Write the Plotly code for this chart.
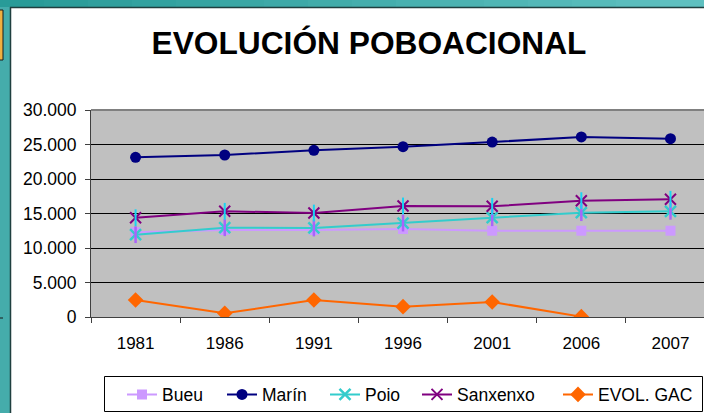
import plotly.graph_objects as go

years = ["1981", "1986", "1991", "1996", "2001", "2006", "2007"]
bueu = [12300, 12610, 12610, 12750, 12510, 12510, 12510]
marin = [23150, 23480, 24160, 24680, 25360, 26090, 25840]
poio = [11930, 12940, 12900, 13620, 14390, 15120, 15320]
sanxenxo = [14390, 15320, 15070, 16090, 16040, 16860, 17060]
evol_gac = [2460, 530, 2460, 1500, 2170, 50, None]

W, H = 704, 413
ML, MR, MT, MB = 91, 0, 110, 96
PW, PH = W - ML - MR, H - MT - MB


def px(x):
    return (x - ML) / PW


def py(y):
    return (H - MB - y) / PH


FONT = "Liberation Sans, Arial, sans-serif"

fig = go.Figure()

fig.add_trace(go.Scatter(x=years, y=bueu, name="Bueu", mode="lines+markers",
                         legend="legend",
                         line=dict(color="#cc99ff", width=2),
                         marker=dict(symbol="square", size=10, color="#cc99ff")))
fig.add_trace(go.Scatter(x=years, y=marin, name="Marín", mode="lines+markers",
                         legend="legend2",
                         line=dict(color="#000080", width=2),
                         marker=dict(symbol="circle", size=11, color="#000080")))
fig.add_trace(go.Scatter(x=years, y=poio, name="Poio", mode="lines+markers",
                         legend="legend3",
                         line=dict(color="#33cccc", width=2),
                         marker=dict(symbol="x-thin-open", size=11,
                                     line=dict(color="#00ffff", width=2.5))))
fig.add_trace(go.Scatter(x=years, y=poio, showlegend=False, mode="markers",
                         hoverinfo="skip",
                         marker=dict(symbol="line-ns-open", size=12,
                                     line=dict(color="#00ffff", width=2.5))))
fig.add_trace(go.Scatter(x=years, y=sanxenxo, name="Sanxenxo", mode="lines+markers",
                         legend="legend4",
                         line=dict(color="#800080", width=2),
                         marker=dict(symbol="x-thin-open", size=11,
                                     line=dict(color="#800080", width=2))))
fig.add_trace(go.Scatter(x=years, y=sanxenxo, showlegend=False, mode="markers",
                         hoverinfo="skip",
                         marker=dict(symbol="line-ns-open", size=12,
                                     line=dict(color="#800080", width=2))))
fig.add_trace(go.Scatter(x=years, y=evol_gac, name="EVOL. GAC", mode="lines+markers",
                         legend="legend5",
                         line=dict(color="#ff6600", width=2),
                         marker=dict(symbol="diamond", size=12, color="#ff6600")))

shapes = []
# top teal gradient band
n = 16
c0 = (0x28, 0x9b, 0x98)
c1 = (0x5e, 0xc0, 0xc0)
for i in range(n):
    t = i / (n - 1)
    col = "rgb(%d,%d,%d)" % tuple(int(a + (b - a) * t) for a, b in zip(c0, c1))
    x0 = W * i / n
    x1 = W * (i + 1) / n + 1
    shapes.append(dict(type="rect", xref="paper", yref="paper",
                       x0=px(x0), x1=px(x1), y0=py(7), y1=py(0),
                       fillcolor=col, line=dict(width=0), layer="above"))
# left teal band
shapes.append(dict(type="rect", xref="paper", yref="paper",
                   x0=px(0), x1=px(10), y0=py(H), y1=py(7),
                   fillcolor="#45acab", line=dict(width=0), layer="above"))
# orange tab top-left
shapes.append(dict(type="rect", xref="paper", yref="paper",
                   x0=px(-2), x1=px(3), y0=py(60), y1=py(10),
                   fillcolor="#f0b040", line=dict(color="#1a1a1a", width=1),
                   layer="above"))
shapes.append(dict(type="line", xref="paper", yref="paper",
                   x0=px(0), x1=px(3), y0=py(318), y1=py(318),
                   line=dict(color="#1a1a1a", width=1), layer="above"))
# dark edge lines of the white panel
shapes.append(dict(type="line", xref="paper", yref="paper",
                   x0=px(10.5), x1=px(10.5), y0=py(H), y1=py(7),
                   line=dict(color="#1f3f3f", width=1.5), layer="above"))
shapes.append(dict(type="line", xref="paper", yref="paper",
                   x0=px(10), x1=px(W), y0=py(7.5), y1=py(7.5),
                   line=dict(color="#1f3f3f", width=1.5), layer="above"))
# plot area top border (gray)
shapes.append(dict(type="line", xref="paper", yref="paper",
                   x0=0, x1=1, y0=1, y1=1,
                   line=dict(color="#808080", width=2), layer="above"))
# legend box
shapes.append(dict(type="rect", xref="paper", yref="paper",
                   x0=px(104.5), x1=px(702.5), y0=py(411.5), y1=py(376.5),
                   fillcolor="white", line=dict(color="black", width=1),
                   layer="above"))

LEG_Y = 1 - 394.5 / H
text_starts = [162, 262, 365, 457, 598]
legend_common = dict(orientation="h", xref="container", yref="container",
                     yanchor="middle", xanchor="left",
                     bgcolor="rgba(0,0,0,0)", borderwidth=0,
                     font=dict(family=FONT, size=17.5, color="black"),
                     itemwidth=30)
legends = {}
for i, ts in enumerate(text_starts):
    key = "legend" if i == 0 else "legend%d" % (i + 1)
    legends[key] = dict(legend_common, x=(ts - 40) / W, y=LEG_Y)

fig.update_layout(
    width=W, height=H,
    margin=dict(l=ML, r=MR, t=MT, b=MB, pad=0),
    paper_bgcolor="white",
    plot_bgcolor="#c0c0c0",
    separators=",.",
    font=dict(family=FONT, color="black", size=17),
    title=dict(text="<b>EVOLUCIÓN POBOACIONAL</b>", x=369 / W, xanchor="center",
               y=1 - 42.5 / H, yanchor="middle",
               font=dict(family=FONT, size=31.7, color="black")),
    xaxis=dict(type="category", range=[-0.5, 6.376], showgrid=False,
               showline=True, linecolor="#404040", linewidth=1,
               ticks="outside", tickson="boundaries", ticklen=5,
               tickcolor="#404040", tickfont=dict(size=17), zeroline=False,
               ticklabelstandoff=11, automargin=False),
    yaxis=dict(range=[0, 30000], dtick=5000, tickformat=",d",
               showgrid=True, gridcolor="black", gridwidth=1,
               showline=True, linecolor="#404040", linewidth=1,
               ticks="outside", ticklen=5, tickcolor="#404040",
               tickfont=dict(size=17.5), zeroline=False,
               ticklabelstandoff=5, automargin=False),
    shapes=shapes,
    showlegend=True,
    **legends,
)

fig.write_html("out.html", config={"displayModeBar": False},
               post_script="document.body.style.margin='0';document.body.style.padding='0';")
